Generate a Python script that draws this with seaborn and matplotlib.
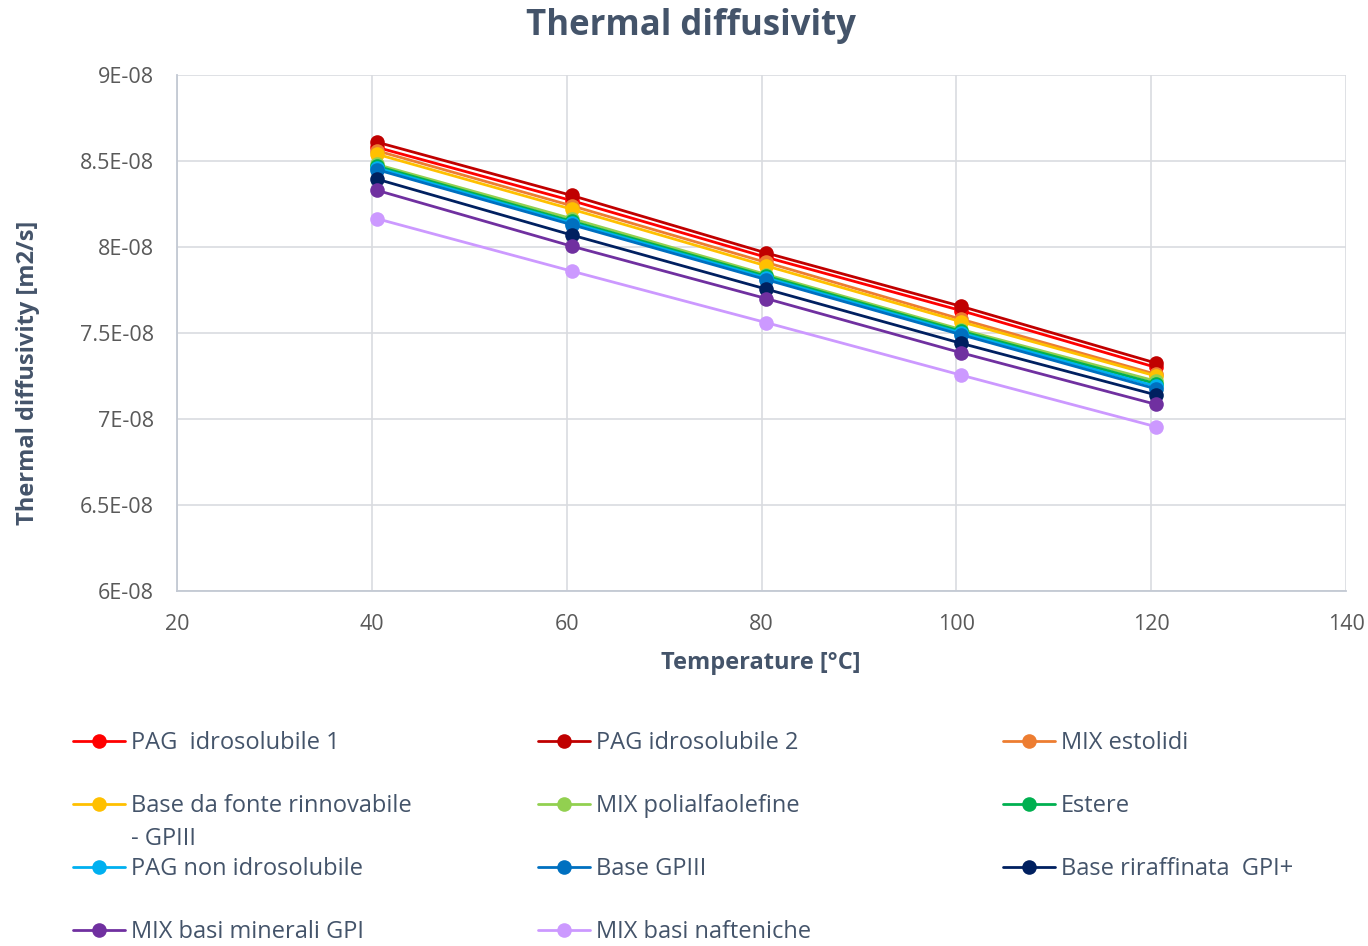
import matplotlib
matplotlib.use("Agg")
import matplotlib.pyplot as plt
import seaborn as sns
import pandas as pd
from matplotlib.ticker import FuncFormatter

temperatures = [40.5, 60.5, 80.5, 100.5, 120.5]

series_names = [
    "PAG  idrosolubile 1",
    "PAG idrosolubile 2",
    "MIX estolidi",
    "Base da fonte rinnovabile - GPIII",
    "MIX polialfaolefine",
    "Estere",
    "PAG non idrosolubile",
    "Base GPIII",
    "Base riraffinata  GPI+",
    "MIX basi minerali GPI",
    "MIX basi nafteniche",
]

pag_idro_1 = [8.58e-08, 8.27e-08, 7.94e-08, 7.63e-08, 7.30e-08]
pag_idro_2 = [8.61e-08, 8.30e-08, 7.965e-08, 7.655e-08, 7.325e-08]
mix_estolidi = [8.56e-08, 8.24e-08, 7.91e-08, 7.58e-08, 7.26e-08]
base_rinnovabile = [8.54e-08, 8.22e-08, 7.89e-08, 7.565e-08, 7.25e-08]
mix_pao = [8.48e-08, 8.165e-08, 7.84e-08, 7.52e-08, 7.22e-08]
estere = [8.47e-08, 8.15e-08, 7.83e-08, 7.51e-08, 7.205e-08]
pag_non_idro = [8.46e-08, 8.14e-08, 7.82e-08, 7.50e-08, 7.19e-08]
base_gpiii = [8.45e-08, 8.13e-08, 7.81e-08, 7.49e-08, 7.175e-08]
base_riraffinata = [8.395e-08, 8.07e-08, 7.755e-08, 7.44e-08, 7.14e-08]
mix_minerali = [8.33e-08, 8.005e-08, 7.70e-08, 7.385e-08, 7.085e-08]
mix_nafteniche = [8.165e-08, 7.86e-08, 7.56e-08, 7.255e-08, 6.955e-08]

all_values = [pag_idro_1, pag_idro_2, mix_estolidi, base_rinnovabile, mix_pao,
              estere, pag_non_idro, base_gpiii, base_riraffinata, mix_minerali,
              mix_nafteniche]

colors = ["#FF0000", "#C00000", "#ED7D31", "#FFC000", "#92D050", "#00B050",
          "#00B0F0", "#0070C0", "#002060", "#7030A0", "#CC99FF"]

y_ticks = [6e-08, 6.5e-08, 7e-08, 7.5e-08, 8e-08, 8.5e-08, 9e-08]
x_ticks = [20, 40, 60, 80, 100, 120, 140]

rows = []
for name, vals in zip(series_names, all_values):
    for t, v in zip(temperatures, vals):
        rows.append({"T": t, "alpha": v, "series": name})
df = pd.DataFrame(rows)

sns.set_theme(style="white")
plt.rcParams["font.family"] = ["Open Sans", "DejaVu Sans"]

TXT = "#44546A"
TICK = "#595959"
W, H = 1368, 946
fig = plt.figure(figsize=(W / 100, H / 100), dpi=100)
ax = fig.add_axes([177 / W, 1 - 591 / H, (1346 - 177) / W, (591 - 75) / H])

sns.lineplot(data=df, x="T", y="alpha", hue="series", hue_order=series_names,
             palette=colors, marker="o", markersize=10.5, markeredgewidth=0,
             linewidth=2, legend=False, ax=ax, zorder=3)

ax.set_xlim(20, 140)
ax.set_ylim(6e-08, 9e-08)
ax.set_xticks(x_ticks)
ax.set_yticks(y_ticks)
ax.yaxis.set_major_formatter(FuncFormatter(lambda v, p: f"{v * 1e8:g}E-08"))
ax.grid(True, color="#D9DBE0", linewidth=1.2)
for s in ["top", "right"]:
    ax.spines[s].set_visible(False)
for s in ["left", "bottom"]:
    ax.spines[s].set_color("#C3C9D3")
    ax.spines[s].set_linewidth(1.3)
ax.tick_params(axis="y", length=0, pad=16.5, labelsize=15.5, labelcolor=TICK)
ax.tick_params(axis="x", length=0, pad=16.5, labelsize=15.5, labelcolor=TICK)
ax.set_xlabel("")
ax.set_ylabel("")

fig.text(691 / W, 1 - 26 / H, "Thermal diffusivity", ha="center", va="center",
         fontsize=25, fontweight="bold", color=TXT)
fig.text(761 / W, 1 - 663 / H, "Temperature [°C]", ha="center", va="center",
         fontsize=17, fontweight="bold", color=TXT)
fig.text(28 / W, 1 - 373 / H, "Thermal diffusivity [m2/s]", ha="center", va="center",
         rotation=90, fontsize=17, fontweight="bold", color=TXT)

handles = ax.lines[:len(series_names)]
col_x = [73, 538, 1003]
row_y = [743, 806, 869, 932]
for i, (h, name) in enumerate(zip(handles, series_names)):
    r, c = divmod(i, 3)
    label = name
    if name.startswith("Base da fonte"):
        label = "Base da fonte rinnovabile"
    fig.legend(handles=[h], labels=[label], loc="center left",
               bbox_to_anchor=(col_x[c] / W, 1 - row_y[r] / H),
               frameon=False, fontsize=17, handlelength=2.2,
               handletextpad=0.25, borderpad=0, borderaxespad=0,
               labelcolor=TXT)
fig.text(131 / W, 1 - 839 / H, "- GPIII", ha="left", va="center",
         fontsize=17, color=TXT)

fig.savefig("out.png", dpi=100)
